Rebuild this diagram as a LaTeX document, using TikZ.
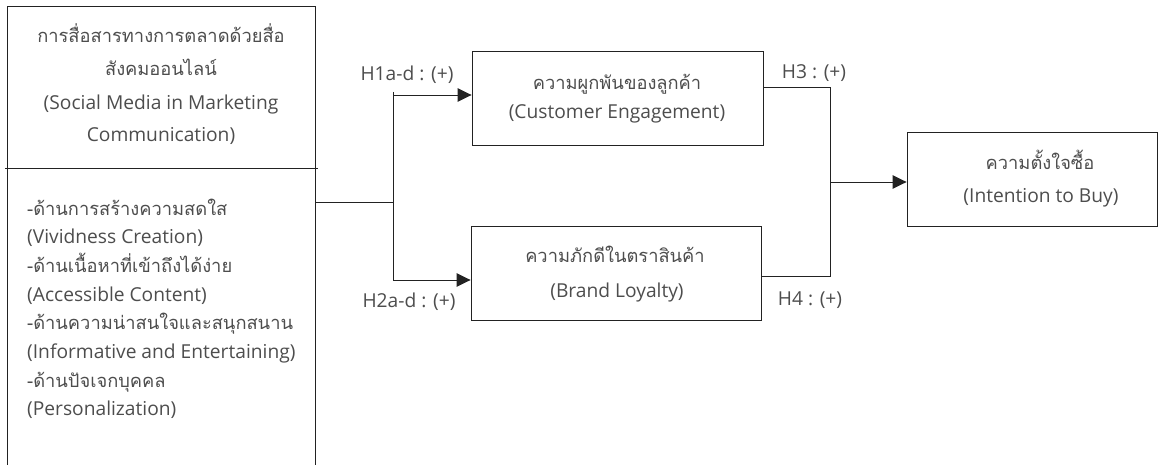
\documentclass[tikz,border=0pt]{standalone}
\usepackage{fontspec}
\setmainfont{Open Sans}
\newfontfamily\thaif[Script=Thai]{Loma}
\usetikzlibrary{arrows.meta}
\definecolor{txt}{HTML}{4D4D4D}
\definecolor{ln}{HTML}{222222}
\begin{document}
\begin{tikzpicture}[x=1pt,y=-1pt,
  box/.style={draw=ln, line width=0.9pt, inner sep=0pt},
  th/.style={text=txt, inner sep=0pt, anchor=base, font=\thaif\fontsize{18.3}{22}\selectfont},
  la/.style={text=txt, inner sep=0pt, anchor=base, font=\fontsize{19.2}{22}\selectfont},
  thl/.style={th, anchor=base west},
  lal/.style={la, anchor=base west},
  conn/.style={draw=ln, line width=0.9pt},
  arr/.style={conn, -{Triangle[length=14pt,width=13.5pt]}}]
\useasboundingbox (0,0) rectangle (1158,465);
% left box (open at bottom)
\draw[conn] (7,465) -- (7,6) -- (315,6) -- (315,465);
\draw[conn] (5,168) -- (318,168);
\node[th] (t1) at (161,43) {การสื่อสารทางการตลาดด้วยสื่อ};
\node[th] (t2) at (161,76) {สังคมออนไลน์};
\node[la] (t3) at (161,110) {(Social Media in Marketing};
\node[la] (t4) at (161,142) {Communication)};
\node[thl] (b1) at (27,215) {-ด้านการสร้างความสดใส};
\node[lal] (b2) at (27,243.7) {(Vividness Creation)};
\node[thl] (b3) at (27,272.4) {-ด้านเนื้อหาที่เข้าถึงได้ง่าย};
\node[lal] (b4) at (27,301.1) {(Accessible Content)};
\node[thl] (b5) at (27,329.8) {-ด้านความน่าสนใจและสนุกสนาน};
\node[lal] (b6) at (27,358.5) {(Informative and Entertaining)};
\node[thl] (b7) at (27,387.2) {-ด้านปัจเจกบุคคล};
\node[lal] (b8) at (27,415.9) {(Personalization)};
% middle and right boxes
\node[box, minimum width=291pt, minimum height=94pt] (cust) at (617.5,98) {};
\node[th] (c1) at (617,90) {ความผูกพันของลูกค้า};
\node[la] (c2) at (617,119) {(Customer Engagement)};
\node[box, minimum width=290pt, minimum height=94pt] (brand) at (616,273) {};
\node[th] (r1) at (615,262) {ความภักดีในตราสินค้า};
\node[la] (r2) at (617,297) {(Brand Loyalty)};
\node[box, minimum width=250pt, minimum height=94pt] (intent) at (1032,179) {};
\node[th] (i1) at (1040,170) {ความตั้งใจซื้อ};
\node[la] (i2) at (1041,202) {(Intention to Buy)};
% left connectors
\coordinate (lr) at (315,202);
\coordinate (j) at (393,202);
\coordinate (jt) at (393,92);
\coordinate (jb) at (393,280);
\coordinate (ta) at (393,95);
\draw[conn] (lr) -- (j);
\draw[conn] (jt) -- (jb);
\draw[arr] (ta) -- (ta -| cust.west);
\draw[arr] (jb) -- (jb -| brand.west);
% right connectors
\coordinate (h3) at (830,87);
\coordinate (h4) at (830,276);
\coordinate (m) at (830,182);
\draw[conn] (cust.east |- h3) -- (h3) -- (h4) -- (brand.east |- h4);
\draw[arr] (m) -- (m -| intent.west);
% labels
\node[la] (l1) at (407,80.5) {H1a-d : (+)};
\node[la] (l2) at (409,307) {H2a-d : (+)};
\node[la] (l3) at (814,79) {H3 : (+)};
\node[la] (l4) at (810,305) {H4 : (+)};
\end{tikzpicture}
\end{document}
